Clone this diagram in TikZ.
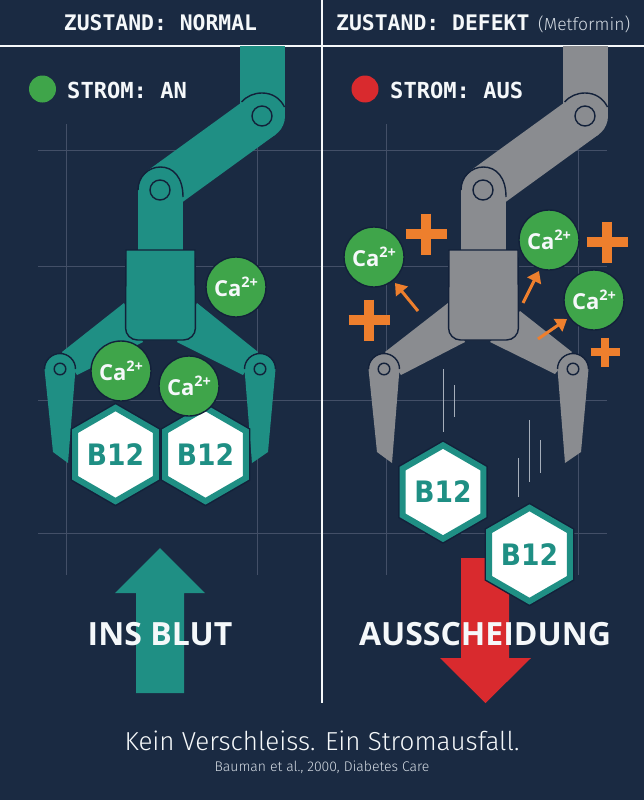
\documentclass[tikz,border=0pt]{standalone}
\usepackage{fontspec}
\usetikzlibrary{arrows.meta,shapes.geometric}
\setmainfont{Open Sans}
\newfontfamily\monofam{DejaVu Sans Mono}
\newfontfamily\lightfam{Fira Sans Light}
\newfontfamily\condfam{DejaVu Sans Condensed}
\definecolor{navy}{HTML}{1A2A42}
\definecolor{edgeink}{HTML}{13213A}
\definecolor{gridline}{HTML}{434F67}
\definecolor{tealarm}{HTML}{1F8F84}
\definecolor{greyarm}{HTML}{8A8C90}
\definecolor{cagreen}{HTML}{3FA54A}
\definecolor{alarmred}{HTML}{D92A2E}
\definecolor{sparkorange}{HTML}{EE7F2D}
\definecolor{paper}{HTML}{F5F8FA}
\definecolor{captiongrey}{HTML}{D3DAE2}
\newcommand{\caionlabel}{Ca\raisebox{0.42em}{\fontsize{14.5}{16}\selectfont 2+}}
\tikzset{
  gridrule/.style={draw=gridline,line width=0.8pt},
  rule/.style={draw=paper,line width=2.2pt},
  outline/.style={draw=edgeink,line width=1.4pt},
  caion/.style={circle,fill=cagreen,draw=edgeink,line width=1.4pt,minimum size=60pt,inner sep=0pt,
    text=paper,font=\bfseries\fontsize{22}{24}\selectfont},
  vitamin/.style={regular polygon,regular polygon sides=6,shape border rotate=30,minimum size=90pt,inner sep=0pt,
    fill=white,draw=tealarm,line width=6pt,preaction={draw=edgeink,line width=9pt},
    text=tealarm,font=\condfam\bfseries\fontsize{29.5}{34}\selectfont},
  headtext/.style={text=paper,inner sep=0pt,font=\monofam\bfseries\fontsize{21.4}{24}\selectfont},
  statetext/.style={text=paper,inner sep=0pt,font=\monofam\bfseries\fontsize{22.1}{24}\selectfont},
  bigtext/.style={text=paper,inner sep=0pt,font=\bfseries\fontsize{32}{38}\selectfont},
  lamp/.style={circle,minimum size=27pt,inner sep=0pt},
  plusmark/.style={draw=sparkorange,line width=#1},
  spark/.style={draw=sparkorange,line width=3pt,-{Triangle[length=11pt,width=15pt]}},
  fall/.style={draw=captiongrey!75!navy,line width=1pt},
}
% Articulated arm shared by both panels: upper segment, elbow link, wrist column
\newcommand{\armframe}{%
  \fill[armcol] (240,46) rectangle (285,116);
  \fill[armcol] (248.5,97.4) -- (146.5,171.4) -- (173.5,208.6) -- (275.5,134.6) -- cycle;
  \fill[armcol] (262,116) circle[radius=23];
  \draw[outline] (241.5,102) .. controls (247,96) and (254,93) .. (262,93) .. controls (272,93) and (280,98) .. (284.5,107);
  \draw[outline] (262,116) circle[radius=10];
  \fill[armcol] (138,190) rectangle (183,252);
  \fill[armcol] (160.5,190) circle[radius=22.5];
  \draw[outline] (138,190) .. controls (138,177) and (148,167) .. (160.5,167) .. controls (173,167) and (183,177) .. (183,197);
  \draw[outline] (160,190) circle[radius=10];
  \draw[outline,fill=armcol] (126,250) -- (195,250) [rounded corners=12pt] -- (195.5,340) -- (125.5,340) [sharp corners] -- cycle;
}
% Gripper finger: #1,#2 pivot, #3,#4 left tip, #5,#6 right tip, #7 half-width at the pivot
\newcommand{\finger}[7]{%
  \fill[armcol] (#1-#7,#2) .. controls (#1-#7,#2-9) and (#1-8,#2-15.5) .. (#1,#2-15.5)
    .. controls (#1+8,#2-15.5) and (#1+#7,#2-9) .. (#1+#7,#2) -- (#5,#6) -- (#3,#4) -- cycle;
  \draw[outline] (#1-#7,#2) .. controls (#1-#7,#2-9) and (#1-8,#2-15.5) .. (#1,#2-15.5)
    .. controls (#1+8,#2-15.5) and (#1+#7,#2-9) .. (#1+#7,#2);
  \draw[outline] (#1,#2) circle[radius=5.8];
}
\begin{document}
\begin{tikzpicture}[x=1pt,y=-1pt]
\useasboundingbox (0,0) rectangle (644,800);
\fill[navy] (0,0) rectangle (644,800);

% construction grid, left panel
\foreach \yy in {150,266,400,533} \draw[gridrule] (38,\yy) -- (322,\yy);
\foreach \xx in {66,257} \draw[gridrule] (\xx,124) -- (\xx,575);
% construction grid, right panel
\foreach \yy in {150,266,400,533} \draw[gridrule] (323,\yy) -- (607,\yy);
\foreach \xx in {386,578} \draw[gridrule] (\xx,124) -- (\xx,575);

% header rules
\draw[rule] (0,46) -- (644,46);
\coordinate (dividerTop) at (322,0);
\coordinate (dividerEnd) at (322,703);
\draw[rule] (dividerTop) -- (dividerEnd);

% headings
\node[headtext] (headL) at (160.5,22.5) {ZUSTAND: NORMAL};
\node[headtext,anchor=west] (headR) at (336,22.5) {ZUSTAND: DEFEKT};
\node[anchor=west,inner sep=0pt,text=captiongrey,font=\lightfam\fontsize{17.5}{20}\selectfont] (headNote) at (538,24.5) {(Metformin)};
\node[lamp,fill=cagreen] (lampL) at (42.5,89) {};
\node[statetext,anchor=west] (stateL) at (67,90) {STROM: AN};
\node[lamp,fill=alarmred] (lampR) at (365,89) {};
\node[statetext,anchor=west] (stateR) at (390,90) {STROM: AUS};

% flow arrows
\fill[tealarm] (160,548) -- (205,593) -- (184,593) -- (184,693) -- (136,693) -- (136,593) -- (115,593) -- cycle;
\fill[alarmred] (461,558) -- (509,558) -- (509,658) -- (531,658) -- (485.5,703) -- (440,658) -- (461,658) -- cycle;

% working gripper
\colorlet{armcol}{tealarm}
\fill[armcol] (124,303) -- (62,352) -- (77,375) -- (143,342) -- cycle;
\fill[armcol] (197,303) -- (258,352) -- (243,375) -- (177,342) -- cycle;
\armframe
\finger{60}{369}{53}{452}{68}{463}{15.5}
\finger{260}{369}{252}{463}{268}{452}{15.5}

\node[vitamin] (b12a) at (115.5,454.5) {B12};
\node[vitamin] (b12b) at (205.5,454.5) {B12};
\node[caion] (caA) at (236,287) {\caionlabel};
\node[caion] (caB) at (121,371) {\caionlabel};
\node[caion] (caC) at (189,386) {\caionlabel};

% failed gripper
\colorlet{armcol}{greyarm}
\fill[armcol] (448,303) -- (385,352) -- (401,375) -- (465,342) -- cycle;
\fill[armcol] (520,311) -- (572,352) -- (555,374) -- (490,342) -- cycle;
\begin{scope}[shift={(323,0)}]
\armframe
\end{scope}
\finger{384}{369}{377}{452}{392}{463}{15.5}
\finger{573}{369}{565}{463}{581}{452}{15.5}

% falling streaks
\coordinate (s1a) at (443,369); \coordinate (s1b) at (443,432);
\coordinate (s2a) at (454,385); \coordinate (s2b) at (454,417);
\coordinate (s3a) at (529,420); \coordinate (s3b) at (529,482);
\coordinate (s4a) at (540,440); \coordinate (s4b) at (540,473);
\coordinate (s5a) at (518,458); \coordinate (s5b) at (518,497);
\draw[fall] (s1a) -- (s1b);
\draw[fall] (s2a) -- (s2b);
\draw[fall] (s3a) -- (s3b);
\draw[fall] (s4a) -- (s4b);
\draw[fall] (s5a) -- (s5b);

\node[vitamin] (b12c) at (443,492) {B12};
\node[vitamin] (b12d) at (529.5,554.5) {B12};

% escaping calcium
\node[caion] (caD) at (374,257) {\caionlabel};
\node[caion] (caE) at (549,240) {\caionlabel};
\node[caion] (caF) at (594,300) {\caionlabel};
\coordinate (tailD) at (418,311);
\coordinate (tailE) at (523,303);
\coordinate (tailF) at (538,339);
\coordinate (tipD) at (395,283);
\coordinate (tipE) at (539,271);
\coordinate (tipF) at (567,319);
\draw[spark] (tailD) -- (tipD);
\draw[spark] (tailE) -- (tipE);
\draw[spark] (tailF) -- (tipF);

% plus signs
\foreach \cx/\cy/\half/\wid in {426/234/20.5/10pt,607/242/20.5/10pt,369/320/20.5/10pt,605/352/14.5/8.5pt}{
  \draw[plusmark=\wid] (\cx-\half,\cy) -- (\cx+\half,\cy);
  \draw[plusmark=\wid] (\cx,\cy-\half) -- (\cx,\cy+\half);
}

% destinations and closing lines
\node[bigtext] (destL) at (160,634) {INS BLUT};
\node[bigtext] (destR) at (485,634) {AUSSCHEIDUNG};
\node[inner sep=0pt,text=paper,font=\lightfam\fontsize{26}{30}\selectfont] (claim) at (322,741) {Kein Verschleiss. Ein Stromausfall.};
\node[inner sep=0pt,text=captiongrey,font=\lightfam\fontsize{14}{16}\selectfont] (source) at (322,767.5) {Bauman et al., 2000, Diabetes Care};
\end{tikzpicture}
\end{document}
